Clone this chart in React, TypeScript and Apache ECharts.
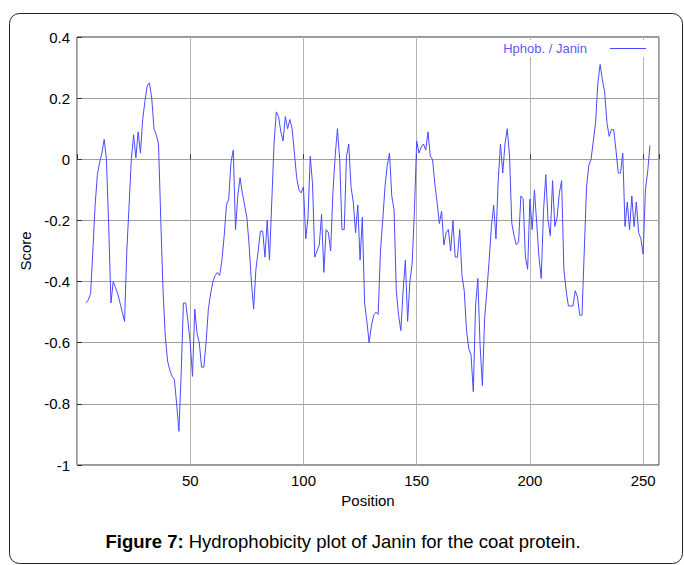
import React, { useEffect, useRef } from "react";
import * as echarts from "echarts";

const startPosition = 4;
const scores: number[] = [
  -0.47, -0.46, -0.44, -0.3, -0.15, -0.05, -0.01, 0.02, 0.065, 0.0,
  -0.22, -0.47, -0.4, -0.42, -0.44, -0.47, -0.5, -0.53, -0.3, -0.15,
  0.0, 0.08, 0.005, 0.09, 0.02, 0.13, 0.19, 0.24, 0.25, 0.2,
  0.1, 0.08, 0.05, -0.2, -0.43, -0.58, -0.66, -0.69, -0.71, -0.72,
  -0.8, -0.89, -0.7, -0.47, -0.47, -0.53, -0.6, -0.71, -0.49, -0.57,
  -0.6, -0.68, -0.68, -0.6, -0.49, -0.44, -0.4, -0.38, -0.37, -0.38,
  -0.33, -0.25, -0.15, -0.13, -0.01, 0.03, -0.23, -0.12, -0.06, -0.11,
  -0.15, -0.19, -0.28, -0.4, -0.49, -0.36, -0.3, -0.235, -0.235, -0.32,
  -0.2, -0.33, -0.14, 0.05, 0.155, 0.14, 0.09, 0.06, 0.14, 0.1,
  0.13, 0.1, 0.02, -0.06, -0.1, -0.11, -0.09, -0.26, -0.19, 0.01,
  -0.08, -0.32, -0.3, -0.28, -0.18, -0.37, -0.23, -0.24, -0.3, -0.11,
  0.01, 0.1, 0.0, -0.23, -0.23, 0.01, 0.05, -0.09, -0.14, -0.24,
  -0.15, -0.33, -0.19, -0.47, -0.53, -0.6, -0.545, -0.51, -0.5, -0.507,
  -0.3, -0.2, -0.09, -0.02, 0.02, -0.12, -0.165, -0.43, -0.51, -0.56,
  -0.43, -0.33, -0.53, -0.4, -0.34, -0.17, 0.06, 0.02, 0.04, 0.05,
  0.03, 0.09, 0.01, 0.0, -0.08, -0.14, -0.21, -0.17, -0.28, -0.24,
  -0.23, -0.3, -0.2, -0.32, -0.32, -0.23, -0.38, -0.43, -0.56, -0.62,
  -0.64, -0.76, -0.48, -0.39, -0.61, -0.74, -0.52, -0.43, -0.33, -0.22,
  -0.15, -0.26, -0.07, 0.05, -0.045, 0.05, 0.1, 0.01, -0.21, -0.25,
  -0.28, -0.27, -0.12, -0.13, -0.32, -0.36, -0.13, -0.23, -0.1, -0.21,
  -0.32, -0.39, -0.17, -0.05, -0.2, -0.25, -0.07, -0.22, -0.19, -0.11,
  -0.07, -0.36, -0.43, -0.48, -0.48, -0.48, -0.43, -0.45, -0.51, -0.51,
  -0.3, -0.09, -0.02, 0.0, 0.06, 0.12, 0.25, 0.31, 0.26, 0.22,
  0.12, 0.075, 0.097, 0.097, 0.03, -0.045, -0.045, 0.02, -0.22, -0.14,
  -0.23, -0.12, -0.22, -0.14, -0.24, -0.26, -0.31, -0.1, -0.04, 0.045,
];
const xTickLabels = [50, 100, 150, 200, 250];
const seriesName = "Hphob. / Janin";
const captionBold = "Figure 7:";
const captionText = " Hydrophobicity plot of Janin for the coat protein.";

export default function App() {
  const ref = useRef<HTMLDivElement>(null);
  useEffect(() => {
    document.body.style.margin = "0";
    const chart = echarts.init(ref.current!, null, { renderer: "svg" });
    const data = scores.map((v, i) => [startPosition + i, v]);
    const font = "Liberation Sans, Arial, sans-serif";
    chart.setOption({
      animation: false,
      backgroundColor: "#ffffff",
      textStyle: { fontFamily: font },
      grid: {
        left: 77,
        right: 25,
        top: 37,
        bottom: 100,
        show: true,
        borderColor: "#333333",
        borderWidth: 1,
        backgroundColor: "transparent",
      },
      legend: {
        right: 36,
        top: 40,
        align: "right",
        itemWidth: 36,
        itemHeight: 1,
        itemGap: 0,
        backgroundColor: "#ffffff",
        padding: 2,
        textStyle: { color: "#5a5aff", fontSize: 13, fontFamily: font, padding: [0, 18, 0, 0] },
        data: [{ name: seriesName, icon: "rect" }],
        itemStyle: { color: "#4a4aff" },
      },
      xAxis: {
        type: "value",
        min: 0,
        max: 257,
        interval: 50,
        name: "Position",
        nameLocation: "middle",
        nameGap: 13,
        nameTextStyle: { color: "#000", fontSize: 15, fontFamily: font },
        axisLine: { show: false },
        axisTick: { show: true, inside: true, length: 5, lineStyle: { color: "#333" } },
        axisLabel: {
          color: "#000",
          fontSize: 15,
          fontFamily: font,
          margin: 8,
          formatter: (v: number) => (xTickLabels.includes(v) ? String(v) : ""),
        },
        splitLine: { show: true, lineStyle: { color: "#b4b4b4", width: 1 } },
      },
      yAxis: {
        type: "value",
        min: -1,
        max: 0.4,
        interval: 0.2,
        name: "Score",
        nameLocation: "middle",
        nameGap: 44,
        nameTextStyle: { color: "#000", fontSize: 15, fontFamily: font },
        axisLine: { show: false },
        axisTick: { show: true, inside: true, length: 5, lineStyle: { color: "#333" } },
        axisLabel: {
          color: "#000",
          fontSize: 15,
          fontFamily: font,
          margin: 7,
          formatter: (v: number) => String(Math.round(v * 10) / 10),
        },
        splitLine: { show: true, lineStyle: { color: "#a0a0a0", width: 1 } },
      },
      series: [
        {
          name: seriesName,
          type: "line",
          data,
          symbol: "none",
          lineStyle: { color: "#4a4aff", width: 1 },
          itemStyle: { color: "#4a4aff" },
        },
      ],
      graphic: [
        {
          type: "rect",
          shape: { x: 9.5, y: 13.5, width: 673, height: 550, r: 10 },
          style: { fill: "none", stroke: "#222", lineWidth: 1 },
          silent: true,
        },
        {
          type: "text",
          x: 343,
          y: 541,
          style: {
            text: "{b|" + captionBold + "}{n|" + captionText + "}",
            align: "center",
            verticalAlign: "middle",
            rich: {
              b: { fontWeight: "bold", fontSize: 18.5, fontFamily: font, fill: "#000" },
              n: { fontSize: 18.5, fontFamily: font, fill: "#000" },
            },
          },
        },
      ],
    });
    return () => chart.dispose();
  }, []);
  return <div ref={ref} style={{ width: 684, height: 565 }} />;
}
